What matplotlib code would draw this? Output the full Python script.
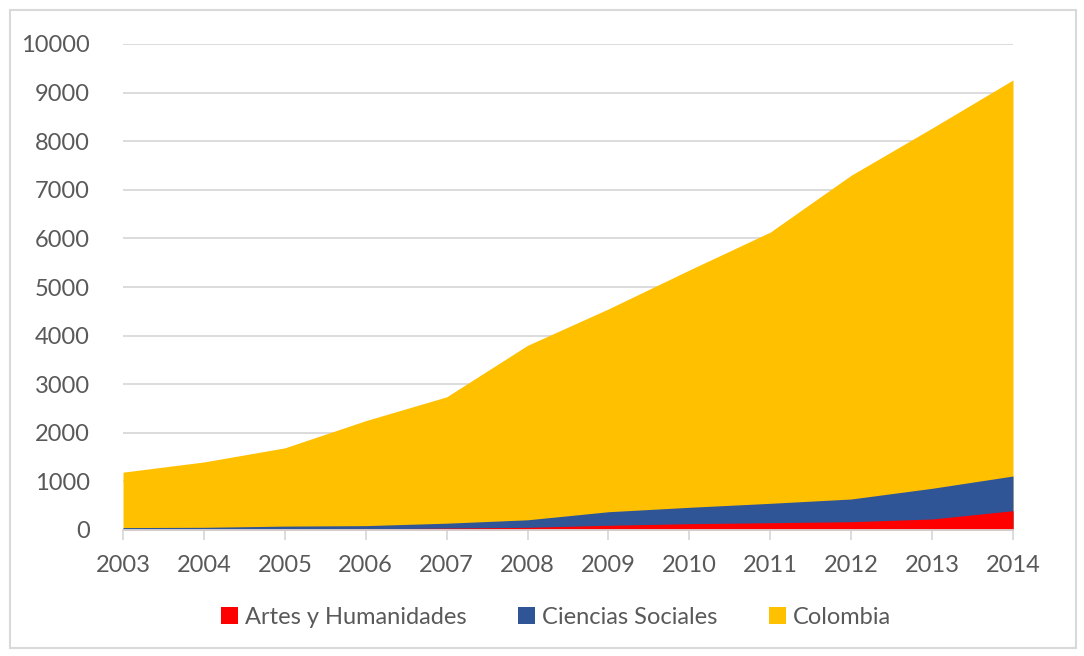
import matplotlib.pyplot as plt
from matplotlib.patches import Rectangle, Patch

years = [2003, 2004, 2005, 2006, 2007, 2008, 2009, 2010, 2011, 2012, 2013, 2014]
colombia = [1190, 1400, 1690, 2250, 2740, 3800, 4550, 5350, 6130, 7300, 8270, 9260]
ciencias_sociales = [50, 55, 80, 90, 140, 210, 376, 467, 549, 638, 858, 1111]
artes_humanidades = [10, 12, 18, 22, 40, 55, 97, 130, 150, 171, 226, 397]

series = [
    ("Artes y Humanidades", artes_humanidades, "#ff0000"),
    ("Ciencias Sociales", ciencias_sociales, "#2f5597"),
    ("Colombia", colombia, "#ffc000"),
]

plt.rcParams['font.family'] = ['Lato', 'DejaVu Sans']
text_color = "#595959"
grid_color = "#d9d9d9"

fig = plt.figure(figsize=(10.84, 6.56), dpi=100)
ax = fig.add_axes([123 / 1084, 1 - 530 / 656, 890 / 1084, 486 / 656])

# Colombia at the back, then the smaller series on top
for name, vals, color in reversed(series):
    ax.fill_between(years, 0, vals, color=color, linewidth=0, zorder=2)

ax.set_xlim(years[0], years[-1])
ax.set_ylim(0, 10000)
ax.set_yticks(range(0, 10001, 1000))
ax.set_xticks(years)
ax.grid(axis="y", color=grid_color, linewidth=1.3, zorder=0)
for s in ["top", "right", "left"]:
    ax.spines[s].set_visible(False)
ax.spines["bottom"].set_color(grid_color)
ax.spines["bottom"].set_linewidth(1.3)
ax.spines["bottom"].set_zorder(3)
ax.tick_params(axis="y", length=0, pad=24, labelsize=17, labelcolor=text_color)
ax.tick_params(axis="x", length=7, width=1.3, color=grid_color, pad=11,
               labelsize=17, labelcolor=text_color)

handles = [Patch(facecolor=c, edgecolor="none", label=n) for n, v, c in series]
fig.legend(handles=handles, loc="center", bbox_to_anchor=(556 / 1084, 1 - 617 / 656),
           ncol=3, frameon=False, fontsize=17, labelcolor=text_color,
           handlelength=0.7, handleheight=0.7, handletextpad=0.3, columnspacing=2.2)

fig.patches.append(Rectangle((10 / 1084, 8 / 656), 1066 / 1084, 638 / 656,
                             transform=fig.transFigure, fill=False,
                             edgecolor=grid_color, linewidth=1.5))

fig.savefig("out.png", dpi=100)
